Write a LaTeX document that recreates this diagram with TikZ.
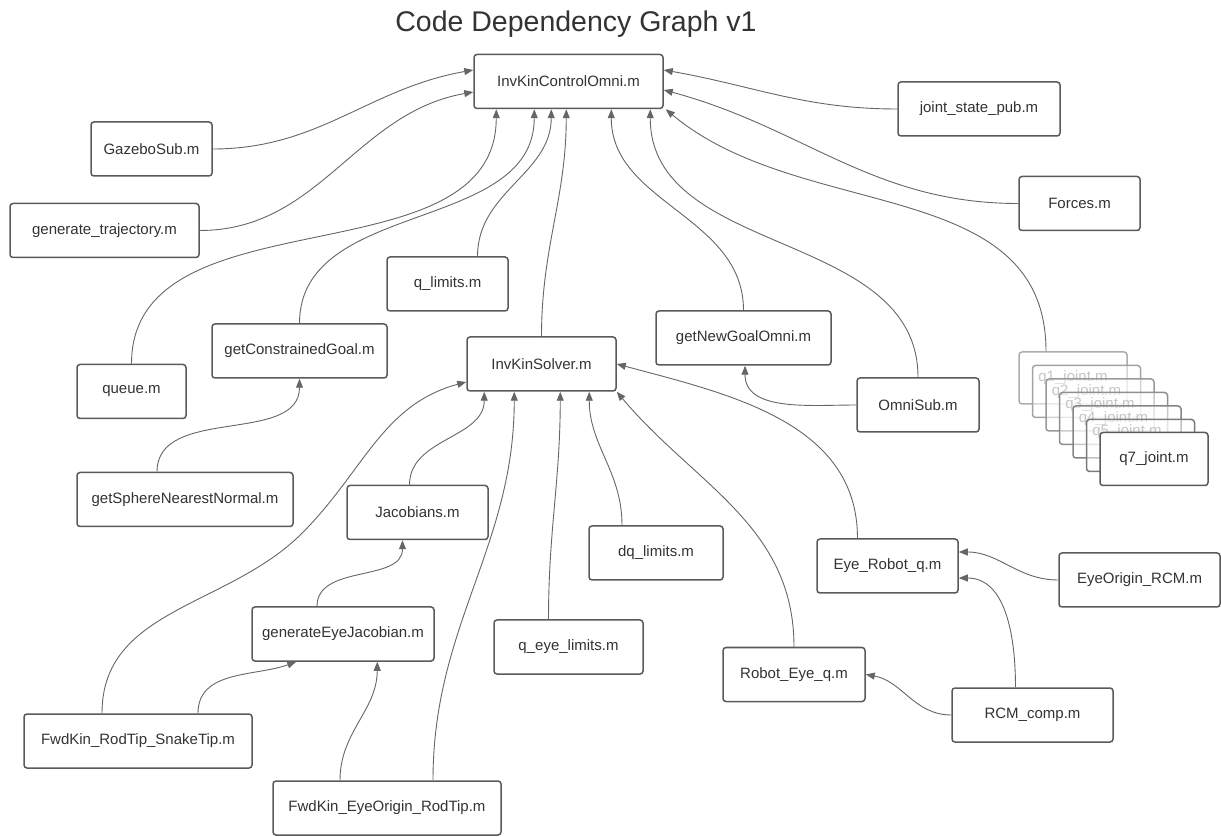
\documentclass[tikz,border=0pt]{standalone}
\usepackage{fontspec}
\setmainfont{Liberation Sans}
\usepackage{tikz}
\usetikzlibrary{arrows.meta,positioning}
\definecolor{boxline}{HTML}{5A5A5A}
\definecolor{edgeline}{HTML}{666666}
\definecolor{labeltext}{HTML}{333333}

\begin{document}
\begin{tikzpicture}[
  x=1pt,y=1pt,
  box/.style={draw=boxline,line width=1.5pt,rounded corners=3pt,fill=white,
    minimum height=54pt,inner sep=2pt,align=center,
    font=\fontsize{15}{17}\selectfont,text=labeltext},
  arrow/.style={-{Triangle[length=9pt,width=7pt]},draw=edgeline,line width=0.9pt},
]
  \useasboundingbox (0,0) rectangle (1221,836);
  \node[font=\fontsize{28.5}{33}\selectfont,text=labeltext] (title) at (576,812)
    {Code Dependency Graph v1};

  % top level
  \node[box,minimum width=189pt] (ico) at (568.5,754.5) {InvKinControlOmni.m};
  \node[box,minimum width=162pt] (jsp) at (979,727) {joint\_state\_pub.m};
  \node[box,minimum width=121pt] (gazebo) at (151.5,687) {GazeboSub.m};
  \node[box,minimum width=189pt] (gentraj) at (104.5,605.5) {generate\_trajectory.m};
  \node[box,minimum width=121pt] (forces) at (1079.5,632.5) {Forces.m};
  \node[box,minimum width=121pt] (qlim) at (447.5,552) {q\_limits.m};
  \node[box,minimum width=175pt] (cgoal) at (299.5,485) {getConstrainedGoal.m};
  \node[box,minimum width=109pt] (queue) at (131.5,444.5) {queue.m};
  \node[box,minimum width=149pt] (iks) at (541.5,472) {InvKinSolver.m};
  \node[box,minimum width=175pt] (ngoal) at (743.5,498) {getNewGoalOmni.m};
  \node[box,minimum width=122pt] (omni) at (918,431) {OmniSub.m};

  % joint stack
  \foreach \i in {1,...,6}{
    \pgfmathsetmacro\shade{int(28+4*\i)}
    \node[box,minimum width=108pt,minimum height=52pt,draw=black!\shade,
      text=black!45,fill opacity=0.5,text opacity=1]
      (q\i) at ({1073+13.5*(\i-1)},{458-13.5*(\i-1)}) {q\i\_joint.m};
  }
  \node[box,minimum width=108pt,minimum height=53pt] (q7) at (1154,377) {q7\_joint.m};

  % solver level
  \node[box,minimum width=216pt] (sphere) at (185,336.5) {getSphereNearestNormal.m};
  \node[box,minimum width=141pt] (jac) at (417.5,323.5) {Jacobians.m};
  \node[box,minimum width=134pt] (dq) at (656,283) {dq\_limits.m};
  \node[box,minimum width=141pt] (eyerob) at (887.5,270) {Eye\_Robot\_q.m};
  \node[box,minimum width=161pt] (eorcm) at (1139.5,256) {EyeOrigin\_RCM.m};
  \node[box,minimum width=182pt] (geneye) at (343,202) {generateEyeJacobian.m};
  \node[box,minimum width=149pt] (qeye) at (568.5,189) {q\_eye\_limits.m};
  \node[box,minimum width=142pt] (robeye) at (794,161.5) {Robot\_Eye\_q.m};
  \node[box,minimum width=161pt] (rcm) at (1032.5,121) {RCM\_comp.m};
  \node[box,minimum width=228pt] (fkrs) at (138,95) {FwdKin\_RodTip\_SnakeTip.m};
  \node[box,minimum width=228pt] (fkeo) at (387,28) {FwdKin\_EyeOrigin\_RodTip.m};

  % into InvKinControlOmni
  \draw[arrow] (gazebo.east) to[out=0,in=190] ([yshift=11.5pt]ico.west);
  \draw[arrow] (gentraj.east) to[out=0,in=190] ([yshift=-10.5pt]ico.west);
  \draw[arrow] (jsp.west) to[out=180,in=-10] ([yshift=11.5pt]ico.east);
  \draw[arrow] (forces.west) to[out=180,in=-15] ([yshift=-8.5pt]ico.east);
  \draw[arrow] ([xshift=-27pt]q1.north) to[out=90,in=-40] ([xshift=2pt]ico.south east);
  \draw[arrow] (queue.north) to[out=90,in=-90] ([xshift=23pt]ico.south west);
  \draw[arrow] (cgoal.north) to[out=90,in=-90] ([xshift=61pt]ico.south west);
  \draw[arrow] ([xshift=30pt]qlim.north) to[out=90,in=-90] ([xshift=78pt]ico.south west);
  \draw[arrow] (iks.north) to[out=90,in=-90] ([xshift=93pt]ico.south west);
  \draw[arrow] (ngoal.north) to[out=90,in=-90] ([xshift=138pt]ico.south west);
  \draw[arrow] (omni.north) to[out=90,in=-90] ([xshift=177pt]ico.south west);

  \draw[arrow] ([xshift=-28pt]sphere.north) to[out=90,in=-90] (cgoal.south);
  \draw[arrow] (omni.west) to[out=180,in=-90] ([xshift=1.5pt]ngoal.south);

  % into InvKinSolver
  \draw[arrow] ([xshift=-36pt]fkrs.north) to[out=90,in=225] ++(200,180)
    to[out=45,in=195] ([yshift=-18pt]iks.west);
  \draw[arrow] ([xshift=-8pt]jac.north) to[out=90,in=-90] ([xshift=18pt]iks.south west);
  \draw[arrow] ([xshift=46pt]fkeo.north) to[out=90,in=-90] ([xshift=48pt]iks.south west);
  \draw[arrow] ([xshift=-20pt]qeye.north) to[out=90,in=-90] ([xshift=94pt]iks.south west);
  \draw[arrow] ([xshift=-34pt]dq.north) to[out=90,in=-90] ([xshift=123pt]iks.south west);
  \draw[arrow] (robeye.north) to[out=90,in=-50] (iks.south east);
  \draw[arrow] ([xshift=-30pt]eyerob.north) to[out=90,in=-15] (iks.east);

  \draw[arrow] ([xshift=-26pt]geneye.north) to[out=90,in=-90] ([xshift=-15pt]jac.south);
  \draw[arrow] ([xshift=60pt]fkrs.north) to[out=90,in=-160] ([xshift=45pt]geneye.south west);
  \draw[arrow] ([xshift=-47pt]fkeo.north) to[out=90,in=-90] ([xshift=126pt]geneye.south west);

  \draw[arrow] (eorcm.west) to[out=180,in=0] ([yshift=14pt]eyerob.east);
  \draw[arrow] ([xshift=-17pt]rcm.north) to[out=90,in=0] ([yshift=-12pt]eyerob.east);
  \draw[arrow] (rcm.west) to[out=180,in=-10] (robeye.east);
\end{tikzpicture}
\end{document}
